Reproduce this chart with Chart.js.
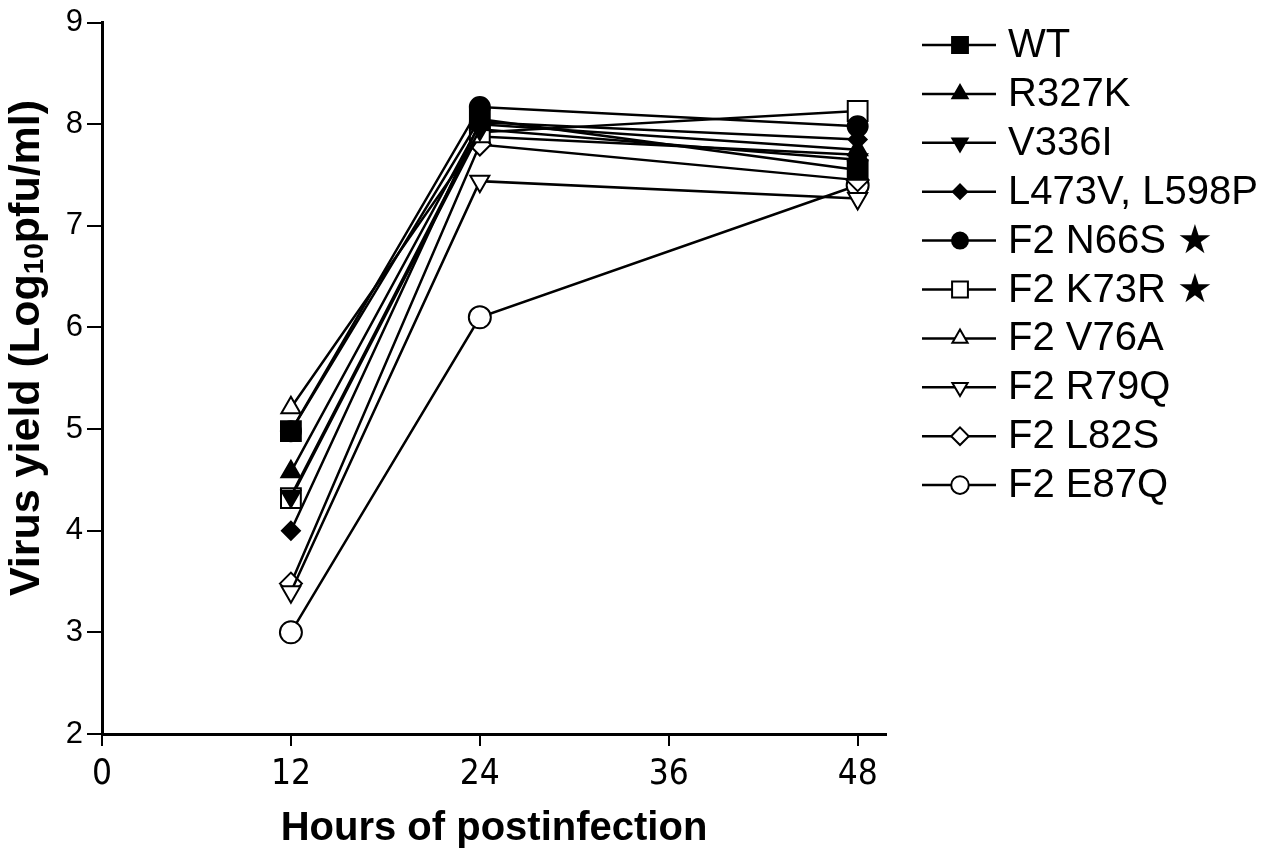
<!DOCTYPE html>
<html>
<head>
<meta charset="utf-8">
<title>Virus yield</title>
<script src="https://cdn.jsdelivr.net/npm/chart.js@4.4.1/dist/chart.umd.min.js"></script>
<style>
    html, body { margin: 0; padding: 0; background: #fff; }
    #wrap { width: 1268px; height: 857px; }
</style>
</head>
<body>
<div id="wrap"><canvas id="yieldChart" width="1268" height="857"></canvas></div>
<script>
// time points (hours after infection) and the labelled ticks
const hours = [12, 24, 48];
const hourTicks = [0, 12, 24, 36, 48];
const yieldTicks = [2, 3, 4, 5, 6, 7, 8, 9];

const seriesNames = ['WT', 'R327K', 'V336I', 'L473V, L598P', 'F2 N66S \u2605',
    'F2 K73R \u2605', 'F2 V76A', 'F2 R79Q', 'F2 L82S', 'F2 E87Q'];

// log10 pfu/ml at 12, 24, 48 h
const wt = [4.98, 8.05, 7.55];
const r327k = [4.58, 8.00, 7.75];
const v336i = [4.34, 7.95, 7.65];
const l473v = [4.00, 8.02, 7.85];
const n66s = [4.98, 8.17, 7.98];
const k73r = [4.32, 7.92, 8.13];
const v76a = [5.21, 7.88, 7.70];
const r79q = [3.40, 7.44, 7.27];
const l82s = [3.48, 7.80, 7.45];
const e87q = [3.00, 6.10, 7.40];

const seriesValues = [wt, r327k, v336i, l473v, n66s, k73r, v76a, r79q, l82s, e87q];

// marker look for each mutant, same order as the names
const markers = [
    { style: 'rect', rot: 0, filled: true, r: 14 },
    { style: 'triangle', rot: 0, filled: true, r: 11 },
    { style: 'triangle', rot: 180, filled: true, r: 11 },
    { style: 'rectRot', rot: 0, filled: true, r: 9 },
    { style: 'circle', rot: 0, filled: true, r: 10 },
    { style: 'rect', rot: 0, filled: false, r: 14 },
    { style: 'triangle', rot: 0, filled: false, r: 11 },
    { style: 'triangle', rot: 180, filled: false, r: 11 },
    { style: 'rectRot', rot: 0, filled: false, r: 11 },
    { style: 'circle', rot: 0, filled: false, r: 11 },
];

const datasets = seriesNames.map((name, i) => ({
    label: name,
    data: hours.map((h, j) => ({ x: h, y: seriesValues[i][j] })),
    borderColor: '#000',
    borderWidth: 2.5,
    backgroundColor: markers[i].filled ? '#000' : '#fff',
    pointStyle: markers[i].style,
    pointRotation: markers[i].rot,
    pointRadius: markers[i].r,
    pointBorderColor: '#000',
    pointBorderWidth: 2,
    pointBackgroundColor: markers[i].filled ? '#000' : '#fff',
    tension: 0,
}));

// legend on the right: line + marker + name
const sideLegend = {
    id: 'sideLegend',
    afterDraw(chart) {
        const ctx = chart.ctx;
        ctx.save();
        chart.data.datasets.forEach((ds, i) => {
            const y = 45 + i * 48.9;
            ctx.strokeStyle = '#000';
            ctx.lineWidth = 2.5;
            ctx.beginPath();
            ctx.moveTo(922, y);
            ctx.lineTo(996, y);
            ctx.stroke();
            ctx.fillStyle = ds.pointBackgroundColor;
            ctx.lineWidth = 2;
            Chart.helpers.drawPoint(ctx, {
                pointStyle: ds.pointStyle,
                rotation: ds.pointRotation,
                radius: ds.pointRadius * 0.8,
                borderWidth: 2,
            }, 960, y);
            ctx.fillStyle = '#000';
            ctx.font = "40px 'Liberation Sans', Arial, sans-serif";
            ctx.textAlign = 'left';
            ctx.textBaseline = 'middle';
            ctx.fillText(ds.label, 1008, y + 1);
        });
        ctx.restore();
    }
};

// rotated y title with a subscript 10
const yTitle = {
    id: 'yTitle',
    afterDraw(chart) {
        const ctx = chart.ctx;
        const big = "bold 43px 'Liberation Sans', Arial, sans-serif";
        const small = "bold 28px 'Liberation Sans', Arial, sans-serif";
        const parts = [['Virus yield (Log', big, 0], ['10', small, 8], ['pfu/ml)', big, 0]];
        ctx.save();
        ctx.translate(27, 348);
        ctx.rotate(-Math.PI / 2);
        ctx.fillStyle = '#000';
        ctx.textBaseline = 'middle';
        ctx.textAlign = 'left';
        let total = 0;
        parts.forEach(p => { ctx.font = p[1]; total += ctx.measureText(p[0]).width; });
        let x = -total / 2;
        parts.forEach(p => {
            ctx.font = p[1];
            ctx.fillText(p[0], x, p[2]);
            x += ctx.measureText(p[0]).width;
        });
        ctx.restore();
    }
};

const ctx = document.getElementById('yieldChart').getContext('2d');
const yieldChart = new Chart(ctx, {
    type: 'line',
    data: { datasets: datasets },
    plugins: [sideLegend, yTitle],
    options: {
        responsive: false,
        animation: false,
        layout: { padding: { left: 0, right: 382, top: -6, bottom: 0 } },
        plugins: {
            legend: { display: false },
            tooltip: { enabled: false },
        },
        scales: {
            x: {
                type: 'linear',
                min: 0,
                max: 49.8,
                afterBuildTicks: axis => { axis.ticks = hourTicks.map(v => ({ value: v })); },
                afterFit: scale => { scale.height = 123; },
                border: { color: '#000', width: 3 },
                grid: { drawOnChartArea: false, drawTicks: true, tickLength: 12, color: '#000', lineWidth: 2 },
                ticks: {
                    color: '#000',
                    padding: 8,
                    maxRotation: 0,
                    font: { family: "'DejaVu Sans Condensed', 'Liberation Sans Narrow', 'Liberation Sans', Arial, sans-serif", size: 35 },
                },
                title: {
                    display: true,
                    text: 'Hours of postinfection',
                    color: '#000',
                    font: { family: "'Liberation Sans', Arial, sans-serif", size: 40, weight: 'bold' },
                    padding: { top: 4, bottom: 4 },
                },
            },
            y: {
                min: 2,
                max: 9,
                afterBuildTicks: axis => { axis.ticks = yieldTicks.map(v => ({ value: v })); },
                afterFit: scale => { scale.width = 102; },
                border: { color: '#000', width: 3 },
                grid: { drawOnChartArea: false, drawTicks: true, tickLength: 15, color: '#000', lineWidth: 2 },
                ticks: {
                    color: '#000',
                    padding: 4,
                    font: { family: "'Liberation Sans', Arial, sans-serif", size: 31 },
                },
            },
        },
    },
});
</script>
</body>
</html>
